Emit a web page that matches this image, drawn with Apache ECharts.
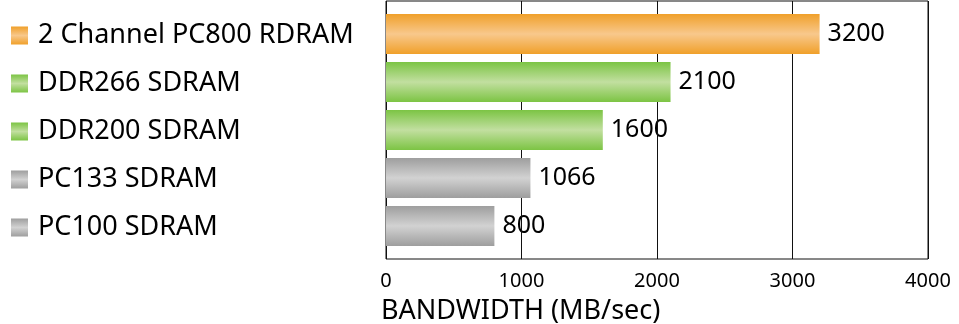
<!DOCTYPE html>
<html>
<head>
<meta charset="utf-8">
<script src="https://cdn.jsdelivr.net/npm/echarts@6/dist/echarts.min.js"></script>
<style>
  html, body { margin: 0; padding: 0; background: #fff; }
  #chart { width: 959px; height: 324px; }
</style>
</head>
<body>
<div id="chart"></div>
<script>
// Memory bandwidth per memory type
const categories = ['2 Channel PC800 RDRAM', 'DDR266 SDRAM', 'DDR200 SDRAM', 'PC133 SDRAM', 'PC100 SDRAM'];
const bandwidth = [3200, 2100, 1600, 1066, 800];
const memoryFamily = ['rdram', 'ddr', 'ddr', 'sdram', 'sdram'];
const xTicks = [0, 1000, 2000, 3000, 4000];
const axisTitle = 'BANDWIDTH (MB/sec)';

const FONT = '"Noto Sans", "Open Sans", sans-serif';

// edge / centre colours of the tube-like gradient per memory family
const familyColors = {
  rdram: ['#F0A02A', '#F8C88C'],
  ddr:   ['#7CC444', '#C2DFA0'],
  sdram: ['#9E9E9E', '#D2D2D2']
};

function tube(family) {
  const [edge, mid] = familyColors[family];
  return new echarts.graphic.LinearGradient(0, 0, 0, 1, [
    { offset: 0, color: edge },
    { offset: 0.5, color: mid },
    { offset: 1, color: edge }
  ]);
}

const iconRich = {};
Object.keys(familyColors).forEach(function (f) {
  iconRich['ic_' + f] = { width: 17, height: 18, backgroundColor: tube(f) };
});
iconRich.sp = { width: 10 };

const xMin = xTicks[0];
const xMax = xTicks[xTicks.length - 1];
const xStep = xTicks[1] - xTicks[0];

const chart = echarts.init(document.getElementById('chart'), null, { renderer: 'canvas' });

chart.setOption({
  animation: false,
  title: {
    text: axisTitle,
    left: 376,
    top: 293,
    textStyle: { fontFamily: FONT, fontSize: 27, fontWeight: 'normal', color: '#000' }
  },
  grid: [
    // framed plot area with the vertical gridlines
    { left: 386, top: 1, width: 542, height: 258, show: true, borderColor: '#111', borderWidth: 1, backgroundColor: 'transparent' },
    // band area that holds the bars
    { left: 386, top: 10, width: 542, height: 240 }
  ],
  xAxis: [
    {
      gridIndex: 0, type: 'value', min: xMin, max: xMax, interval: xStep, z: 2,
      axisLine: { show: false }, axisTick: { show: false },
      splitLine: { show: true, lineStyle: { color: '#111', width: 1 } },
      axisLabel: {
        margin: 12, color: '#000', fontFamily: FONT, fontSize: 20,
        formatter: function (v) { return String(v); }
      }
    },
    {
      gridIndex: 1, type: 'value', min: xMin, max: xMax, show: false
    }
  ],
  yAxis: [
    { gridIndex: 0, type: 'value', show: false },
    {
      gridIndex: 1, type: 'category', data: categories, inverse: true,
      axisLine: { show: false }, axisTick: { show: false }, splitLine: { show: false },
      axisLabel: {
        align: 'left', margin: 375, color: '#000', fontFamily: FONT, fontSize: 27,
        padding: [3, 0, 0, 0],
        formatter: function (value, index) {
          return '{ic_' + memoryFamily[index] + '|}{sp|}' + value;
        },
        rich: iconRich
      }
    }
  ],
  series: [
    {
      // value labels, kept beneath the gridlines
      type: 'bar', xAxisIndex: 1, yAxisIndex: 1, z: 1, barWidth: 40, barGap: '-100%',
      silent: true,
      itemStyle: { color: 'rgba(0,0,0,0)' },
      label: {
        show: true, position: 'right', distance: 8, padding: [3, 0, 0, 0],
        color: '#000', fontFamily: FONT, fontSize: 25
      },
      data: bandwidth
    },
    {
      type: 'bar', xAxisIndex: 1, yAxisIndex: 1, z: 3, barWidth: 40, barGap: '-100%',
      silent: true,
      data: bandwidth.map(function (v, i) {
        return { value: v, itemStyle: { color: tube(memoryFamily[i]) } };
      })
    }
  ]
});
</script>
</body>
</html>
